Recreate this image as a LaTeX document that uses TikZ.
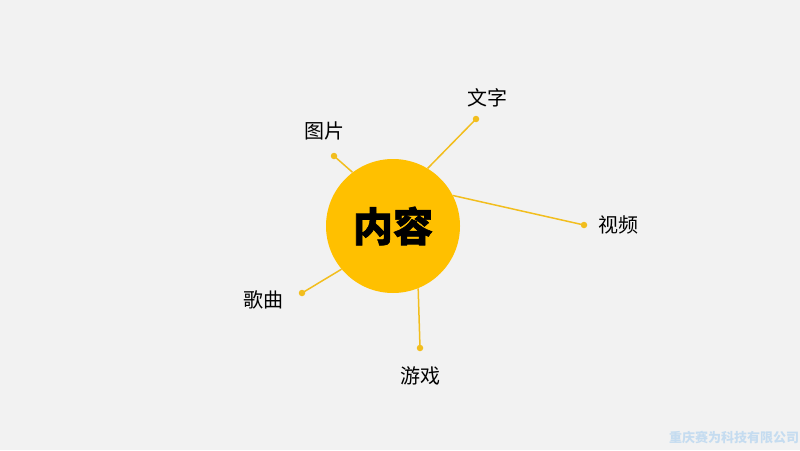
\documentclass[tikz,border=0pt]{standalone}
\usepackage{fontspec}
\newfontfamily\cjk{Noto Sans CJK SC}
\newfontfamily\cjkheavy[BoldFeatures={FakeBold=1.6}]{Noto Sans CJK SC}
\definecolor{gold}{HTML}{FFC000}
\definecolor{line}{HTML}{F2BE1E}
\definecolor{paper}{HTML}{F2F2F2}
\definecolor{stamp}{HTML}{C5DCF0}
\tikzset{
  spoke/.style={draw=line, line width=1.5pt},
  tip/.style={circle, fill=line, inner sep=0pt, minimum size=6.5pt},
  word/.style={font=\cjk\fontsize{20}{20}\selectfont, inner sep=0pt}
}
\begin{document}
\begin{tikzpicture}[x=1pt,y=-1pt]
	    \fill[paper](0,0) rectangle (800,450);
	    \node[circle, fill=gold, inner sep=0pt, minimum size=134pt, font=\cjkheavy\bfseries\fontsize{40}{40}\selectfont](core) at (393,226){内容};
	    % ends of the spokes
	    \node[tip](pic) at (334,156){};
	    \node[tip](txt) at (476,119){};
	    \node[tip](vid) at (584,225){};
	    \node[tip](song) at (302,293){};
	    \node[tip](game) at (420,348){};
	    \draw[spoke](core.127)--(pic.center);
	    \draw[spoke](core.59)--(txt.center);
	    \draw[spoke](core.27)--(vid.center);
	    \draw[spoke](core.220)--(song.center);
	    \draw[spoke](core.292)--(game.center);
	    \node[word](picl) at (324,131){图片};
	    \node[word](txtl) at (487,98){文字};
	    \node[word](vidl) at (618,225){视频};
	    \node[word](songl) at (263,300){歌曲};
	    \node[word](gamel) at (420,376){游戏};
	    \node[text=stamp, font=\cjk\bfseries\fontsize{13}{13}\selectfont, inner sep=0pt](brand) at (734,437){重庆赛为科技有限公司};
	\end{tikzpicture}
\end{document}
